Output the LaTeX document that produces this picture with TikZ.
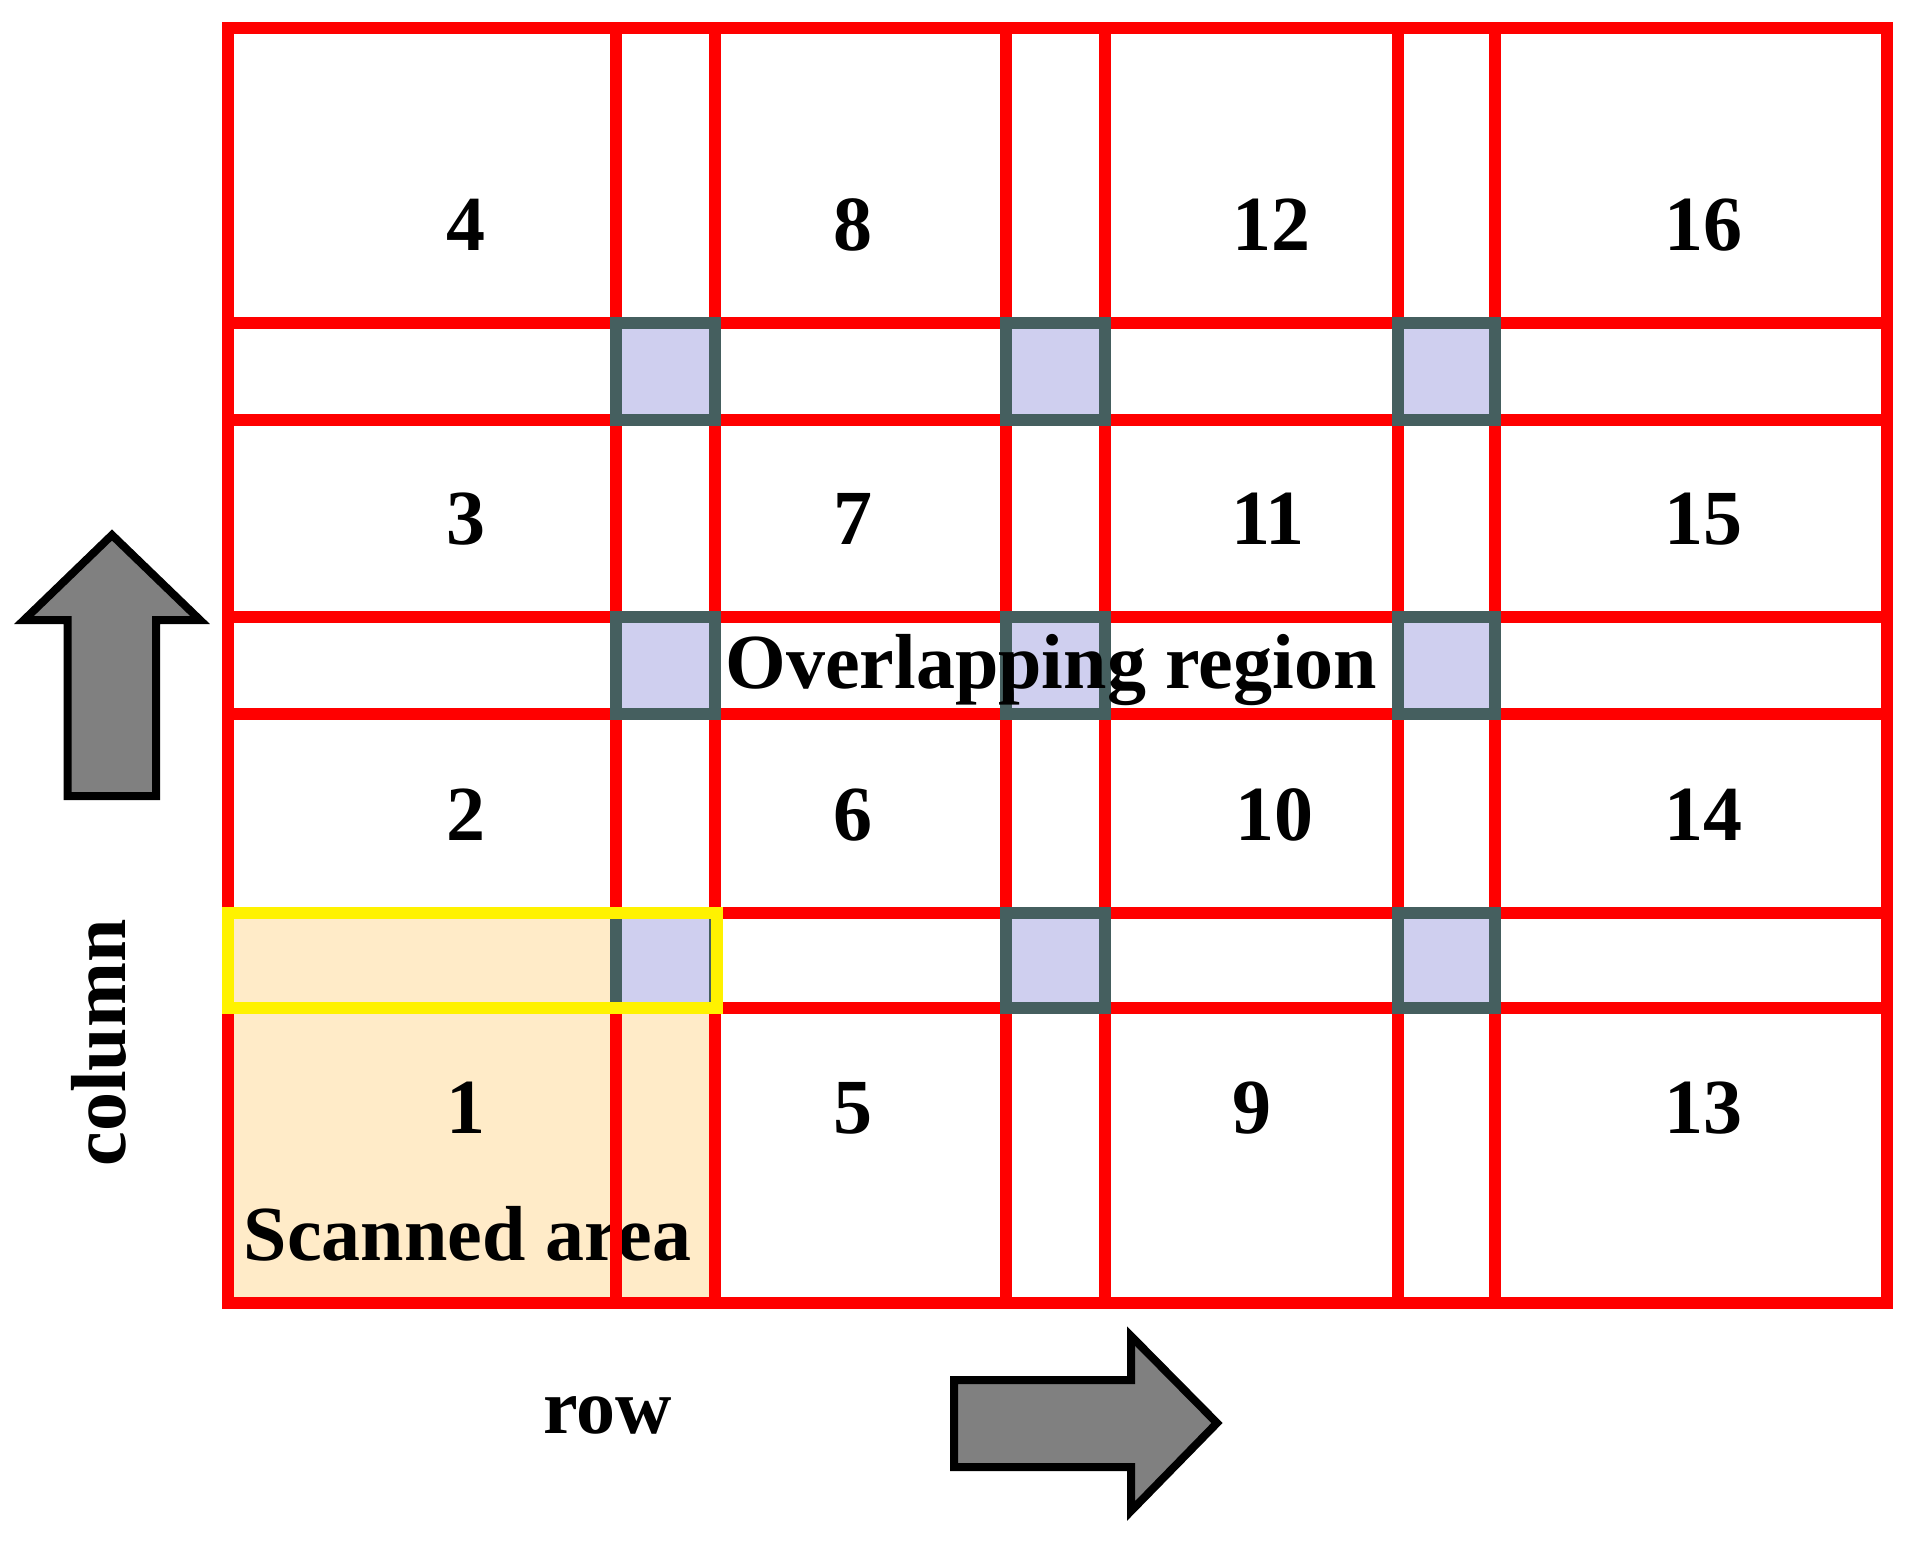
\documentclass[tikz,border=0pt]{standalone}
\usepackage{fontspec}
\setmainfont{Liberation Serif}
\definecolor{scanfill}{HTML}{FFEBC8}
\definecolor{ovfill}{HTML}{CFCFEF}
\definecolor{ovedge}{HTML}{455F5F}
\definecolor{arrowgray}{HTML}{808080}
\begin{document}
\begin{tikzpicture}[x=1pt,y=-1pt,
  tile/.style={draw=red,line width=12pt},
  ovsq/.style={draw=ovedge,fill=ovfill,line width=12pt},
  scanbox/.style={draw=yellow,line width=12pt},
  bigarrow/.style={draw=black,fill=arrowgray,line width=8pt,line join=miter},
  lbl/.style={inner sep=0pt,anchor=base,font=\fontsize{78}{90}\selectfont\bfseries}]
\useasboundingbox (0,0) rectangle (1911,1541);
% scanned area fill
\fill[scanfill] (228,913) rectangle (715,1303);
\node[lbl] (scan) at (467.5,1260) {Scanned area};
% tiles
\foreach \xa/\xb in {228/715,616/1105,1006/1495,1398/1887}{
  \foreach \ya/\yb in {913/1303,617/1008,323/714,27.7/420}{
    \draw[tile] (\xa,\ya) rectangle (\xb,\yb);
  }
}
% overlapping squares
\foreach \xa/\xb in {616/715,1006/1105,1398/1495}{
  \foreach \ya/\yb in {323/420,617/714,913/1008}{
    \draw[ovsq] (\xa,\ya) rectangle (\xb,\yb);
  }
}
% scanned strip outline
\draw[scanbox] (228,913) rectangle (717,1008);
% numbers
\node[lbl] (n4) at (466,250) {4};
\node[lbl] (n8) at (853,250) {8};
\node[lbl] (n12) at (1271,250) {12};
\node[lbl] (n16) at (1703,250) {16};
\node[lbl] (n3) at (466,544) {3};
\node[lbl] (n7) at (853,544) {7};
\node[lbl] (n11) at (1268,544) {11};
\node[lbl] (n15) at (1703,544) {15};
\node[lbl] (n2) at (466,840) {2};
\node[lbl] (n6) at (853,840) {6};
\node[lbl] (n10) at (1274,840) {10};
\node[lbl] (n14) at (1703,840) {14};
\node[lbl] (n1) at (466,1133) {1};
\node[lbl] (n5) at (853,1133) {5};
\node[lbl] (n9) at (1252,1133) {9};
\node[lbl] (n13) at (1703,1133) {13};
\node[lbl] (ovl) at (1051,688) {Overlapping region};
% arrows
\draw[bigarrow] (112,535) -- (24,620) -- (67.5,620) -- (67.5,796) -- (156,796) -- (156,620) -- (200,620) -- cycle;
\draw[bigarrow] (954,1380) -- (1131,1380) -- (1131,1336) -- (1217,1423) -- (1131,1511) -- (1131,1467) -- (954,1467) -- cycle;
\node[lbl,rotate=90] (col) at (125,1043) {column};
\node[lbl] (row) at (608,1433) {row};
\end{tikzpicture}
\end{document}
